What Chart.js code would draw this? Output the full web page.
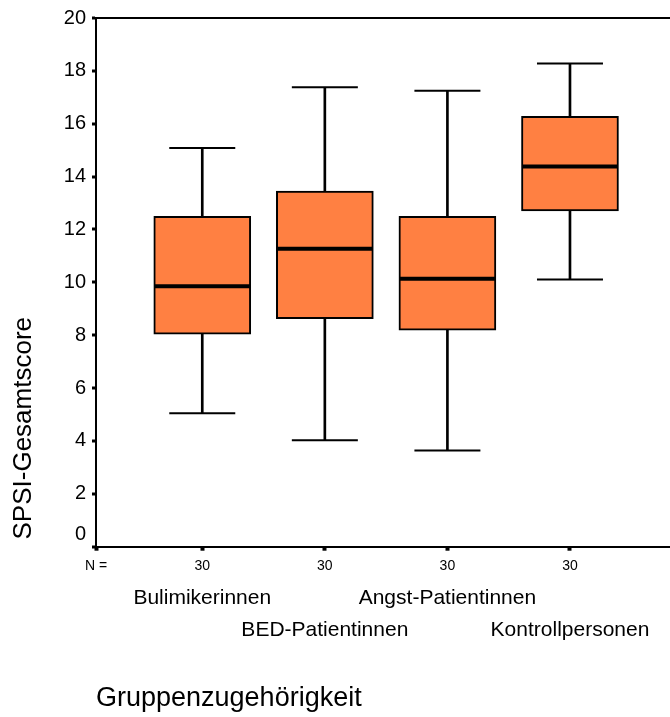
<!DOCTYPE html>
<html>
<head>
<meta charset="utf-8">
<script src="https://cdn.jsdelivr.net/npm/chart.js@4/dist/chart.umd.min.js"></script>
<style>
  html, body { margin: 0; padding: 0; background: #fff; }
  #wrap { position: relative; width: 670px; height: 717px; }
</style>
</head>
<body>
<div id="wrap"><canvas id="c"></canvas></div>
<script>
// ---- data ----
const categories = ['Bulimikerinnen', 'BED-Patientinnen', 'Angst-Patientinnen', 'Kontrollpersonen'];
const positions = [1, 2, 3, 4];
const nCounts = [30, 30, 30, 30];
const whiskerLow = [5.05, 4.03, 3.64, 10.11];
const q1 = [8.04, 8.63, 8.19, 12.70];
const median = [9.85, 11.27, 10.14, 14.38];
const q3 = [12.50, 13.45, 12.50, 16.28];
const whiskerHigh = [15.08, 17.38, 17.25, 18.28];
const yTicks = [0, 2, 4, 6, 8, 10, 12, 14, 16, 18, 20];

const xMin = 0.133, xMax = 4.816;
const FONT = "'Liberation Sans', Arial, sans-serif";
Chart.defaults.font.family = FONT;
Chart.defaults.color = '#000';

const BOX_COLOR = '#FF8042';

const datasets = [
  {
    type: 'scatter', label: 'median', order: 0,
    data: positions.map((p, i) => ({ x: p, y: median[i] })),
    pointStyle: 'line', pointRadius: 48, pointHoverRadius: 48,
    pointBorderColor: '#000', pointBorderWidth: 4, pointBackgroundColor: '#000', clip: false
  },
  {
    type: 'scatter', label: 'caps', order: 0,
    data: positions.flatMap((p, i) => [{ x: p, y: whiskerLow[i] }, { x: p, y: whiskerHigh[i] }]),
    pointStyle: 'line', pointRadius: 33, pointHoverRadius: 33,
    pointBorderColor: '#000', pointBorderWidth: 2, pointBackgroundColor: '#000', clip: false
  },
  {
    type: 'bar', label: 'box', order: 1, grouped: false,
    data: positions.map((p, i) => ({ x: p, y: [q1[i], q3[i]] })),
    backgroundColor: BOX_COLOR, borderColor: '#000', borderWidth: 2, borderSkipped: false,
    barThickness: 97
  },
  {
    type: 'bar', label: 'upper whisker', order: 2, grouped: false,
    data: positions.map((p, i) => ({ x: p, y: [q3[i], whiskerHigh[i]] })),
    backgroundColor: '#000', borderWidth: 0, barThickness: 2
  },
  {
    type: 'bar', label: 'lower whisker', order: 2, grouped: false,
    data: positions.map((p, i) => ({ x: p, y: [whiskerLow[i], q1[i]] })),
    backgroundColor: '#000', borderWidth: 0, barThickness: 2
  }
];

new Chart(document.getElementById('c'), {
  type: 'bar',
  data: { datasets },
  options: {
    responsive: true,
    maintainAspectRatio: false,
    animation: false,
    events: [],
    layout: { autoPadding: false, padding: { top: 17.7, right: 0, bottom: 0, left: 0 } },
    plugins: { legend: { display: false }, tooltip: { enabled: false } },
    scales: {
      x: {
        type: 'linear', position: 'bottom', min: xMin, max: xMax, offset: false, weight: 0,
        afterBuildTicks: s => { s.ticks = [xMin].concat(positions).map(v => ({ value: v })); },
        afterFit: s => { s.height = 34; },
        ticks: {
          autoSkip: false, maxRotation: 0, padding: 7, color: '#000',
          font: { size: 14, lineHeight: 1.2 },
          callback: v => { const i = positions.indexOf(v); return i < 0 ? 'N =' : String(nCounts[i]); }
        },
        grid: { drawOnChartArea: false, drawTicks: true, tickLength: 4, tickWidth: 4, tickColor: '#000', offset: false },
        border: { display: true, color: '#000', width: 2 }
      },
      x2: {
        type: 'linear', position: 'bottom', min: xMin, max: xMax, offset: false, weight: 1,
        afterBuildTicks: s => { s.ticks = positions.map(v => ({ value: v })); },
        afterFit: s => { s.height = 717 - 580.7; },
        ticks: {
          autoSkip: false, maxRotation: 0, padding: 1.3, color: '#000',
          font: { size: 21, lineHeight: 32 / 21 },
          callback: v => { const i = positions.indexOf(v); return i % 2 === 0 ? [categories[i], ''] : ['', categories[i]]; }
        },
        grid: { display: false, drawTicks: false, drawOnChartArea: false },
        border: { display: false },
        title: {
          display: true, text: 'Gruppenzugehörigkeit', align: 'start', color: '#000',
          font: { size: 27, lineHeight: 1.2 }, padding: { top: 0, bottom: 2 }
        }
      },
      y: {
        type: 'linear', min: 0, max: 20,
        afterBuildTicks: s => { s.ticks = yTicks.map(v => ({ value: v })); },
        afterFit: s => { s.width = 96; },
        ticks: {
          autoSkip: false, padding: 6, color: '#000', font: { size: 20, lineHeight: 1.2 },
          callback: v => v === 0 ? ['0', ''] : String(v)
        },
        grid: {
          drawTicks: true, tickLength: 4, tickWidth: 3, tickColor: '#000',
          color: c => (c.tick && c.tick.value === 20) ? '#000' : 'rgba(0,0,0,0)',
          lineWidth: c => (c.tick && c.tick.value === 20) ? 2 : 0
        },
        border: { display: true, color: '#000', width: 2 },
        title: {
          display: true, text: ' SPSI-Gesamtscore', align: 'start', color: '#000',
          font: { size: 26, lineHeight: 1.2 }, padding: { top: 8.6, bottom: 0 }
        }
      }
    }
  }
});
</script>
</body>
</html>
